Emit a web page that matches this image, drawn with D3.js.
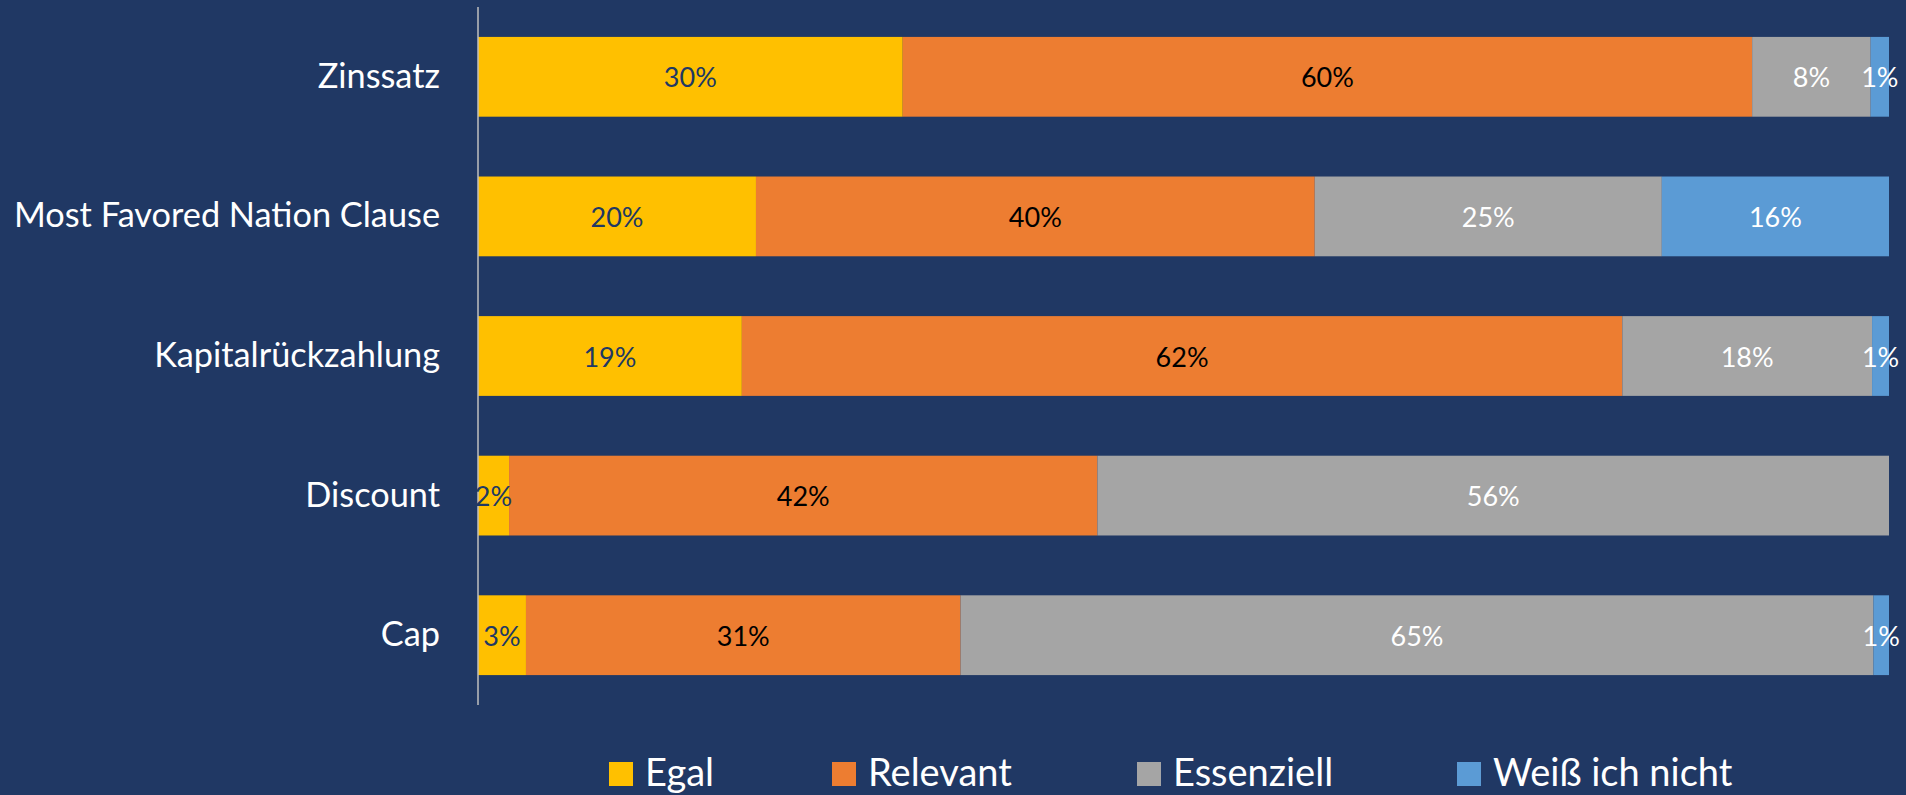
<!DOCTYPE html>
<html>
<head>
<meta charset="utf-8">
<script src="https://cdn.jsdelivr.net/npm/d3@7"></script>
<style>
  html, body { margin: 0; padding: 0; background: #203864; }
  svg { display: block; }
  text { font-family: Lato, "Open Sans", sans-serif; }
</style>
</head>
<body>
<svg id="chart" width="1906" height="795"></svg>
<script>
const categories = ["Zinssatz", "Most Favored Nation Clause", "Kapitalrückzahlung", "Discount", "Cap"];
const seriesNames = ["Egal", "Relevant", "Essenziell", "Weiß ich nicht"];
const egal       = [30.1, 19.7, 18.7, 2.2, 3.4];
const relevant   = [60.2, 39.6, 62.4, 41.7, 30.8];
const essenziell = [8.4, 24.6, 17.7, 56.1, 64.7];
const weissNicht = [1.3, 16.1, 1.2, 0, 1.1];
const seriesColors = ["#FFC000", "#ED7D31", "#A5A5A5", "#5B9BD5"];
const labelColors  = ["#203864", "#000000", "#FFFFFF", "#FFFFFF"];

const seriesValues = [egal, relevant, essenziell, weissNicht];
const rows = categories.map((c, i) => {
  const r = { category: c };
  seriesNames.forEach((s, k) => r[s] = seriesValues[k][i]);
  return r;
});

const svg = d3.select("#chart");
const W = 1906, H = 795;
svg.append("rect").attr("width", W).attr("height", H).attr("fill", "#203864");

const x = d3.scaleLinear().domain([0, 100]).range([478, 1889]);
const y = d3.scaleBand().domain(categories).range([7, 705])
  .paddingInner(0.75 / 1.75).paddingOuter(0.375 / 1.75);

const stack = d3.stack().keys(seriesNames);
const stacked = stack(rows);

const g = svg.append("g");
stacked.forEach((layer, k) => {
  const lg = g.append("g");
  lg.selectAll("rect").data(layer.filter(d => d[1] - d[0] > 0)).join("rect")
    .attr("x", d => x(d[0]))
    .attr("y", d => y(d.data.category))
    .attr("width", d => x(d[1]) - x(d[0]))
    .attr("height", y.bandwidth())
    .attr("fill", seriesColors[k]);
});

// axis line (category axis)
const yAxis = d3.axisLeft(y).tickSize(0).tickPadding(38);
const ax = svg.append("g").attr("transform", `translate(${x(0)},0)`).call(yAxis);
ax.select(".domain").attr("stroke", "#BFBFBF").attr("stroke-width", 1.5)
  .attr("d", `M0,7V705`);
ax.selectAll(".tick text")
  .attr("fill", "#FFFFFF")
  .style("font-size", "34.3px")
  .style("font-family", "Lato, 'Open Sans', sans-serif");

// data labels
stacked.forEach((layer, k) => {
  svg.append("g").selectAll("text").data(layer.filter(d => d[1] - d[0] > 0)).join("text")
    .attr("x", d => (x(d[0]) + x(d[1])) / 2)
    .attr("y", d => y(d.data.category) + y.bandwidth() / 2)
    .attr("text-anchor", "middle")
    .attr("dominant-baseline", "central")
    .attr("fill", labelColors[k])
    .style("font-size", "27px")
    .text(d => Math.round(d[1] - d[0]) + "%");
});

// legend
const legendX = [609, 832, 1137, 1457];
const leg = svg.append("g");
seriesNames.forEach((s, k) => {
  leg.append("rect").attr("x", legendX[k]).attr("y", 762).attr("width", 24).attr("height", 24)
    .attr("fill", seriesColors[k]);
  leg.append("text").attr("x", legendX[k] + 36).attr("y", 786)
    .attr("fill", "#FFFFFF").style("font-size", "38px").text(s);
});
</script>
</body>
</html>
